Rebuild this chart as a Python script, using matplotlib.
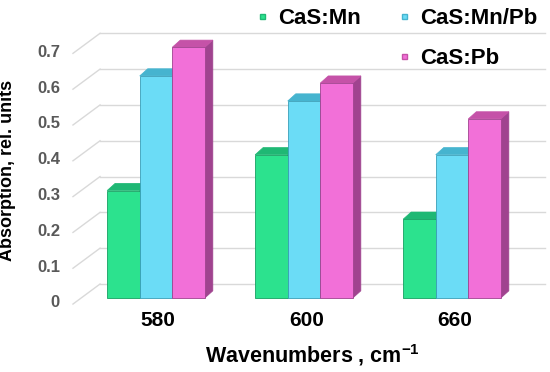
import matplotlib
matplotlib.use("Agg")
import matplotlib.pyplot as plt
from matplotlib.lines import Line2D
from matplotlib.patches import Polygon

# data
wavenumbers = ["580", "600", "660"]
series_names = ["CaS:Mn", "CaS:Mn/Pb", "CaS:Pb"]
cas_mn = [0.30, 0.40, 0.22]
cas_mn_pb = [0.62, 0.55, 0.40]
cas_pb = [0.70, 0.60, 0.50]
y_ticks = [0, 0.1, 0.2, 0.3, 0.4, 0.5, 0.6, 0.7]
y_tick_labels = ["0", "0.1", "0.2", "0.3", "0.4", "0.5", "0.6", "0.7"]

# front, top, side colours per series
front_colors = ["#2ce28e", "#6bdcf6", "#f270d8"]
top_colors = ["#1fb874", "#46b4cf", "#c552a8"]
side_colors = ["#17a062", "#3a9fb8", "#a0438f"]

plt.rcParams["font.family"] = ["Liberation Sans", "DejaVu Sans"]
plt.rcParams["font.weight"] = "bold"
plt.rcParams["mathtext.fontset"] = "custom"
plt.rcParams["mathtext.rm"] = "Liberation Sans:bold"
plt.rcParams["mathtext.bf"] = "Liberation Sans:bold"

fig = plt.figure(figsize=(5.5, 3.72), dpi=100)
ax = fig.add_axes([0, 0, 1, 1])
ax.set_xlim(-1.054, 2.662)
ax.set_ylim(-0.2067, 0.832)
ax.axis("off")

# pseudo-3D walls: diagonal on the left wall + horizontal on back wall
grid_c = "#d9d9d9"
wall_front_x, wall_back_x, wall_right_x = -0.561, -0.378, 2.628
off_front, off_back = -0.017, 0.039
for v, lab in zip(y_ticks, y_tick_labels):
    ax.plot([wall_front_x, wall_back_x], [v + off_front, v + off_back],
            color=grid_c, lw=1, zorder=1)
    ax.plot([wall_back_x, wall_right_x], [v + off_back, v + off_back],
            color=grid_c, lw=1, zorder=1)
    ax.text(-0.649, v - 0.014, lab, ha="right", va="center",
            fontsize=12, color="#595959", fontweight="bold")

width = 0.22
dx, dy = 0.054, 0.02
x = list(range(len(wavenumbers)))
all_series = [cas_mn, cas_mn_pb, cas_pb]
for s, vals in enumerate(all_series):
    offset = (s - 1) * width
    for i, h in enumerate(vals):
        x0 = x[i] + offset - width / 2
        x1 = x0 + width
        z = 2 + s * 3
        ax.add_patch(Polygon([(x1, 0), (x1, h), (x1 + dx, h + dy), (x1 + dx, dy)],
                             closed=True, fc=side_colors[s], ec=side_colors[s],
                             lw=0.5, zorder=z))
        ax.add_patch(Polygon([(x0, h), (x1, h), (x1 + dx, h + dy), (x0 + dx, h + dy)],
                             closed=True, fc=top_colors[s], ec=top_colors[s],
                             lw=0.5, zorder=z + 1))
    ax.bar([xi + offset for xi in x], vals, width=width, color=front_colors[s],
           edgecolor=side_colors[s], linewidth=0.6, zorder=2 + s * 3 + 2)

for xi, lab in zip(x, wavenumbers):
    ax.text(xi + 0.015, -0.062, lab, ha="center", va="center",
            fontsize=15, fontweight="bold", color="black")

ax.text(1.054, -0.159, r"Wavenumbers , cm$^{\mathbf{-1}}$", ha="center", va="center",
        fontsize=15.5, fontweight="bold", color="black")
ax.text(-1.0, 0.355, "Absorption, rel. units", rotation=90, ha="center", va="center",
        fontsize=13, fontweight="bold", color="black")

handles = [
    Line2D([], [], ls="none", marker="s", ms=3.6, mfc=front_colors[0], mec=top_colors[0]),
    Line2D([], [], ls="none", alpha=0),
    Line2D([], [], ls="none", marker="s", ms=3.6, mfc=front_colors[1], mec=top_colors[1]),
    Line2D([], [], ls="none", marker="s", ms=3.6, mfc=front_colors[2], mec=top_colors[2]),
]
labels = [series_names[0], "", series_names[1], series_names[2]]
leg = fig.legend(handles, labels, loc="upper left", bbox_to_anchor=(255 / 550, 1 - 8 / 372),
                 ncol=2, frameon=False, borderpad=0, borderaxespad=0,
                 handlelength=0.6, handletextpad=0.42, columnspacing=1.68, labelspacing=0.85,
                 prop={"family": "Liberation Sans", "weight": "bold", "size": 16})

fig.savefig("out.png", dpi=100)
